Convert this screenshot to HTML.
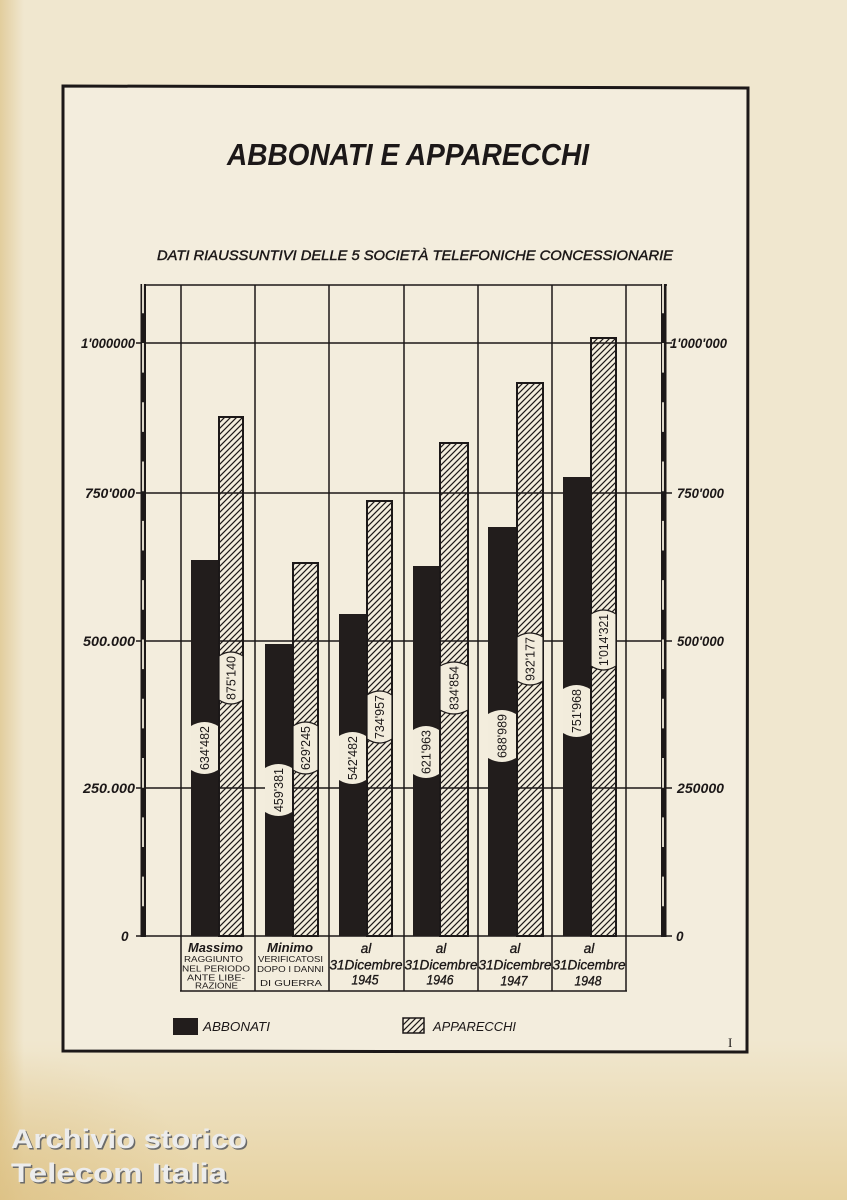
<!DOCTYPE html>
<html><head><meta charset="utf-8">
<style>
html,body{margin:0;padding:0;background:#f1e9d4;}
svg{display:block;}
text{font-family:"Liberation Sans",sans-serif;fill:#1c1818;}
</style></head>
<body>
<svg width="847" height="1200" viewBox="0 0 847 1200" xmlns="http://www.w3.org/2000/svg">
<defs>
  <linearGradient id="gl" x1="0" y1="0" x2="1" y2="0">
    <stop offset="0" stop-color="#dcc288" stop-opacity="0.7"/>
    <stop offset="1" stop-color="#dcc288" stop-opacity="0"/>
  </linearGradient>
  <linearGradient id="gb" x1="0" y1="0" x2="0" y2="1">
    <stop offset="0" stop-color="#e4cc94" stop-opacity="0"/>
    <stop offset="1" stop-color="#e4cc94" stop-opacity="0.8"/>
  </linearGradient>
  <radialGradient id="gc" cx="0" cy="1" r="0.5">
    <stop offset="0" stop-color="#d8b978" stop-opacity="0.5"/>
    <stop offset="1" stop-color="#d8b978" stop-opacity="0"/>
  </radialGradient>
  <pattern id="hatch" patternUnits="userSpaceOnUse" width="6" height="6">
    <path d="M-1,1 l2,-2 M0,6 l6,-6 M5,7 l2,-2" stroke="#1c1818" stroke-width="1.2"/>
  </pattern>
</defs>

<!-- paper -->
<rect x="0" y="0" width="847" height="1200" fill="#f0e7cf"/>
<rect x="0" y="0" width="24" height="1200" fill="url(#gl)"/>
<rect x="0" y="1040" width="847" height="160" fill="url(#gb)"/>
<rect x="0" y="900" width="400" height="300" fill="url(#gc)"/>
<rect x="64" y="87" width="683" height="964" fill="#f3eddd"/>

<!-- frame -->
<path d="M63,86 L748,88 L747,1052 L63,1051 Z" fill="none" stroke="#1c1818" stroke-width="3"/>

<!-- title -->
<text x="227" y="165" font-size="31" font-weight="bold" font-style="italic" textLength="362" lengthAdjust="spacingAndGlyphs">ABBONATI E APPARECCHI</text>
<text x="157" y="260" font-size="14" font-style="italic" stroke="#1c1818" stroke-width="0.45" textLength="516" lengthAdjust="spacingAndGlyphs">DATI RIAUSSUNTIVI DELLE 5 SOCIETÀ TELEFONICHE CONCESSIONARIE</text>

<!-- grid -->
<g stroke="#1c1818" stroke-width="1.5" fill="none">
  <line x1="141" y1="285" x2="667" y2="285"/>
  <line x1="136" y1="343" x2="672" y2="343"/>
  <line x1="136" y1="493" x2="672" y2="493"/>
  <line x1="136" y1="641" x2="672" y2="641"/>
  <line x1="136" y1="788" x2="672" y2="788"/>
  <line x1="136" y1="936" x2="672" y2="936"/>
  <line x1="181" y1="285" x2="181" y2="991"/>
  <line x1="255" y1="285" x2="255" y2="991"/>
  <line x1="329" y1="285" x2="329" y2="991"/>
  <line x1="404" y1="285" x2="404" y2="991"/>
  <line x1="478" y1="285" x2="478" y2="991"/>
  <line x1="552" y1="285" x2="552" y2="991"/>
  <line x1="626" y1="285" x2="626" y2="991"/>
  <line x1="180" y1="991" x2="627" y2="991"/>
</g>

<!-- axes -->
<rect x="140.5" y="284" width="5.5" height="653" fill="#1c1818"/>
<line x1="143" y1="284" x2="143" y2="936" stroke="#f3eddd" stroke-width="1.8" stroke-dasharray="29.65 29.65" stroke-dashoffset="0.35"/>
<rect x="661" y="284" width="5.5" height="653" fill="#1c1818"/>
<line x1="663" y1="284" x2="663" y2="936" stroke="#f3eddd" stroke-width="1.8" stroke-dasharray="29.65 29.65" stroke-dashoffset="0.35"/>

<!-- axis labels -->
<g font-size="13.5" font-style="italic" font-weight="bold">
  <text x="81" y="348" textLength="54" lengthAdjust="spacingAndGlyphs">1'000000</text>
  <text x="85" y="498" textLength="50" lengthAdjust="spacingAndGlyphs">750'000</text>
  <text x="83" y="646" textLength="52" lengthAdjust="spacingAndGlyphs">500.000</text>
  <text x="83" y="793" textLength="52" lengthAdjust="spacingAndGlyphs">250.000</text>
  <text x="121" y="941">0</text>
  <text x="670" y="348" textLength="57" lengthAdjust="spacingAndGlyphs">1'000'000</text>
  <text x="677" y="498" textLength="47" lengthAdjust="spacingAndGlyphs">750'000</text>
  <text x="677" y="646" textLength="47" lengthAdjust="spacingAndGlyphs">500'000</text>
  <text x="677" y="793" textLength="47" lengthAdjust="spacingAndGlyphs">250000</text>
  <text x="676" y="941">0</text>
</g>

<!-- bars: dark -->
<g fill="#221d1c">
  <rect x="191" y="560" width="27" height="376"/>
  <rect x="265" y="644" width="27" height="292"/>
  <rect x="339" y="614" width="27" height="322"/>
  <rect x="413" y="566" width="26" height="370"/>
  <rect x="488" y="527" width="28" height="409"/>
  <rect x="563" y="477" width="27" height="459"/>
</g>
<!-- bars: hatched -->
<g fill="url(#hatch)" stroke="#1c1818" stroke-width="2">
  <rect x="219" y="417" width="24" height="519"/>
  <rect x="293" y="563" width="25" height="373"/>
  <rect x="367" y="501" width="25" height="435"/>
  <rect x="440" y="443" width="28" height="493"/>
  <rect x="517" y="383" width="26" height="553"/>
  <rect x="591" y="338" width="25" height="598"/>
</g>

<!-- pills on dark bars -->
<g fill="#f2ecdc">
  <path d="M191,726 Q204.5,718 218,726 L218,770 Q204.5,778 191,770 Z"/>
  <path d="M265,768 Q278.5,760 292,768 L292,812 Q278.5,820 265,812 Z"/>
  <path d="M339,736 Q352.5,728 366,736 L366,780 Q352.5,788 339,780 Z"/>
  <path d="M413,730 Q426,722 439,730 L439,774 Q426,782 413,774 Z"/>
  <path d="M488,714 Q502,706 516,714 L516,758 Q502,766 488,758 Z"/>
  <path d="M563,689 Q576.5,681 590,689 L590,733 Q576.5,741 563,733 Z"/>
</g>
<!-- pills on hatched bars -->
<g fill="#f2ecdc" stroke="#1c1818" stroke-width="1.2">
  <path d="M219,656 Q231,648 243,656 L243,700 Q231,708 219,700 Z"/>
  <path d="M293,726 Q305.5,718 318,726 L318,770 Q305.5,778 293,770 Z"/>
  <path d="M367,695 Q379.5,687 392,695 L392,739 Q379.5,747 367,739 Z"/>
  <path d="M440,666 Q454,658 468,666 L468,710 Q454,718 440,710 Z"/>
  <path d="M517,637 Q530,629 543,637 L543,681 Q530,689 517,681 Z"/>
  <path d="M591,614 Q603.5,606 616,614 L616,666 Q603.5,674 591,666 Z"/>
</g>

<!-- value labels -->
<g font-size="12.5" text-anchor="middle">
  <text transform="translate(209,748) rotate(-90)" textLength="44" lengthAdjust="spacingAndGlyphs">634'482</text>
  <text transform="translate(235.5,678) rotate(-90)" textLength="44" lengthAdjust="spacingAndGlyphs">875'140</text>
  <text transform="translate(283,790) rotate(-90)" textLength="44" lengthAdjust="spacingAndGlyphs">459'381</text>
  <text transform="translate(310,748) rotate(-90)" textLength="44" lengthAdjust="spacingAndGlyphs">629'245</text>
  <text transform="translate(357,758) rotate(-90)" textLength="44" lengthAdjust="spacingAndGlyphs">542'482</text>
  <text transform="translate(384,717) rotate(-90)" textLength="44" lengthAdjust="spacingAndGlyphs">734'957</text>
  <text transform="translate(430.5,752) rotate(-90)" textLength="44" lengthAdjust="spacingAndGlyphs">621'963</text>
  <text transform="translate(458.5,688) rotate(-90)" textLength="44" lengthAdjust="spacingAndGlyphs">834'854</text>
  <text transform="translate(506.5,736) rotate(-90)" textLength="44" lengthAdjust="spacingAndGlyphs">688'989</text>
  <text transform="translate(534.5,659) rotate(-90)" textLength="44" lengthAdjust="spacingAndGlyphs">932'177</text>
  <text transform="translate(581,711) rotate(-90)" textLength="44" lengthAdjust="spacingAndGlyphs">751'968</text>
  <text transform="translate(608,640) rotate(-90)" textLength="52" lengthAdjust="spacingAndGlyphs">1'014'321</text>
</g>

<!-- category labels -->
<g font-style="italic" font-weight="bold" font-size="13">
  <text x="188" y="952" textLength="55" lengthAdjust="spacingAndGlyphs">Massimo</text>
  <text x="267" y="952" textLength="46" lengthAdjust="spacingAndGlyphs">Minimo</text>
</g>
<g font-size="8.5">
  <text x="184" y="962" textLength="59" lengthAdjust="spacingAndGlyphs">RAGGIUNTO</text>
  <text x="182" y="971.5" textLength="68" lengthAdjust="spacingAndGlyphs">NEL PERIODO</text>
  <text x="187" y="980.5" textLength="58" lengthAdjust="spacingAndGlyphs">ANTE LIBE-</text>
  <text x="195" y="988.5" textLength="43" lengthAdjust="spacingAndGlyphs">RAZIONE</text>
  <text x="258" y="962" textLength="65" lengthAdjust="spacingAndGlyphs">VERIFICATOSI</text>
  <text x="257" y="972" textLength="67" lengthAdjust="spacingAndGlyphs">DOPO I DANNI</text>
  <text x="260" y="986" textLength="62" lengthAdjust="spacingAndGlyphs">DI GUERRA</text>
</g>
<g font-style="italic" font-size="13.5" text-anchor="middle" stroke="#1c1818" stroke-width="0.35">
  <text x="366" y="953">al</text>
  <text x="441" y="953">al</text>
  <text x="515" y="953">al</text>
  <text x="589" y="953">al</text>
  <text x="366" y="969.5" textLength="73" lengthAdjust="spacingAndGlyphs">31Dicembre</text>
  <text x="441" y="969.5" textLength="73" lengthAdjust="spacingAndGlyphs">31Dicembre</text>
  <text x="515" y="969.5" textLength="73" lengthAdjust="spacingAndGlyphs">31Dicembre</text>
  <text x="589" y="969.5" textLength="73" lengthAdjust="spacingAndGlyphs">31Dicembre</text>
  <text x="365" y="984.5" textLength="27" lengthAdjust="spacingAndGlyphs">1945</text>
  <text x="440" y="984.5" textLength="27" lengthAdjust="spacingAndGlyphs">1946</text>
  <text x="514" y="985.5" textLength="27" lengthAdjust="spacingAndGlyphs">1947</text>
  <text x="588" y="985.5" textLength="27" lengthAdjust="spacingAndGlyphs">1948</text>
</g>

<!-- legend -->
<rect x="173" y="1018" width="25" height="17" fill="#221d1c"/>
<text x="203" y="1031" font-size="13" font-style="italic" textLength="67" lengthAdjust="spacingAndGlyphs">ABBONATI</text>
<rect x="403" y="1018" width="21" height="15" fill="url(#hatch)" stroke="#1c1818" stroke-width="1.5"/>
<text x="433" y="1031" font-size="13" font-style="italic" textLength="83" lengthAdjust="spacingAndGlyphs">APPARECCHI</text>

<!-- page number -->
<text x="728" y="1047" font-size="13" style="font-family:'Liberation Serif',serif">I</text>

<!-- watermark -->
<g font-size="27" font-weight="bold">
  <text x="12.5" y="1149.5" style="fill:#6b6b6b" textLength="236" lengthAdjust="spacingAndGlyphs">Archivio storico</text>
  <text x="11" y="1148" style="fill:#ececec" textLength="236" lengthAdjust="spacingAndGlyphs">Archivio storico</text>
  <text x="12.5" y="1183.5" style="fill:#6b6b6b" textLength="216" lengthAdjust="spacingAndGlyphs">Telecom Italia</text>
  <text x="11" y="1182" style="fill:#ececec" textLength="216" lengthAdjust="spacingAndGlyphs">Telecom Italia</text>
</g>
</svg>
</body></html>
